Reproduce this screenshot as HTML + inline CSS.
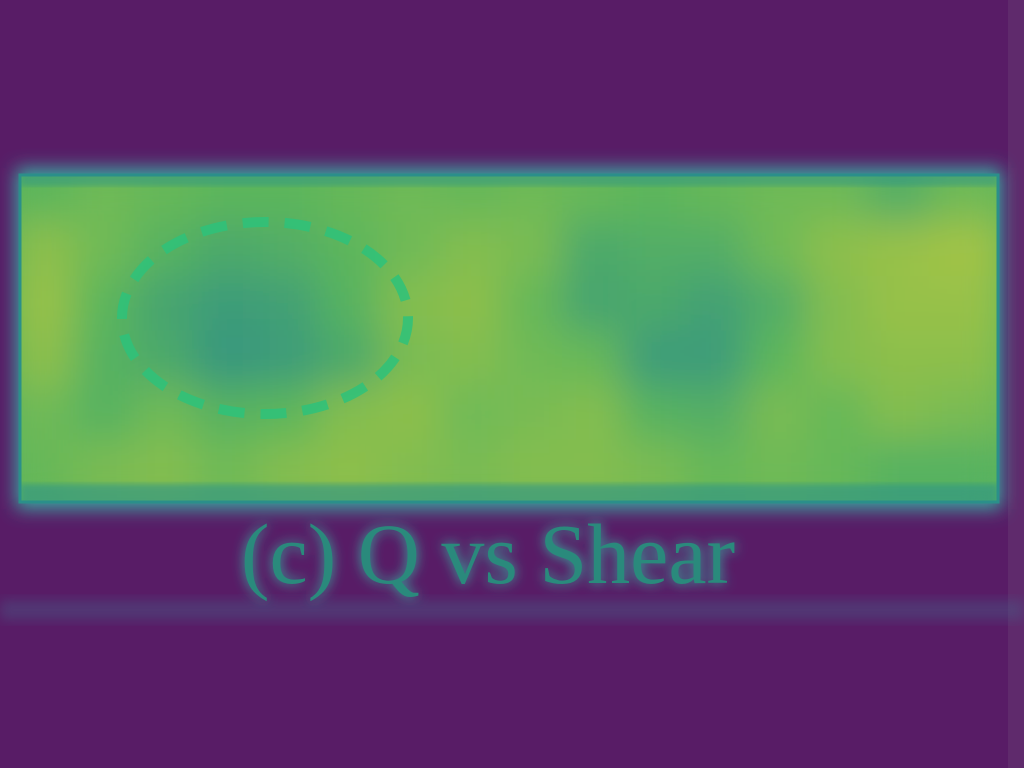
<!DOCTYPE html>
<html><head><meta charset="utf-8"><style>
html,body{margin:0;padding:0;background:#581c66;width:1024px;height:768px;overflow:hidden}
svg{display:block}
</style></head><body>
<svg id="chart" width="1024" height="768" viewBox="0 0 1024 768">
<defs>
<filter id="blur" x="-10%" y="-20%" width="120%" height="140%"><feGaussianBlur stdDeviation="20"/></filter>
<filter id="glow" x="-10%" y="-30%" width="120%" height="160%"><feGaussianBlur stdDeviation="9"/></filter>
<filter id="tglow" x="-10%" y="-30%" width="120%" height="160%"><feGaussianBlur stdDeviation="6"/></filter>
<filter id="sblur"><feGaussianBlur stdDeviation="3"/></filter>
<clipPath id="clip"><rect x="20" y="175" width="978" height="327"/></clipPath>
</defs>
<rect x="0" y="0" width="1024" height="768" fill="#581c66"/>
<rect x="1008" y="0" width="16" height="768" fill="#5f2a6c"/>
<rect x="0" y="600" width="1024" height="20" fill="#4a5a86" opacity="0.45" filter="url(#tglow)"/>
<rect x="16" y="168" width="986" height="341" fill="#3aa7a0" filter="url(#glow)"/>
<g id="cells" clip-path="url(#clip)">
<rect x="20" y="175" width="978" height="327" fill="#5db35c"/>
<g id="cellg" filter="url(#blur)"></g>
<rect x="20" y="484" width="978" height="22" fill="#2f9488" opacity="0.6" filter="url(#sblur)"/>
<rect x="20" y="172" width="978" height="14" fill="#2f9488" opacity="0.5" filter="url(#sblur)"/>
</g>
<rect x="20" y="175" width="978" height="327" fill="none" stroke="#2b8f8a" stroke-width="3"/>
<ellipse cx="265" cy="318" rx="143" ry="96" fill="none" stroke="#2ec27a" stroke-width="10" stroke-dasharray="26 16" opacity="0.85"/>
<text x="488" y="583" text-anchor="middle" font-family="Liberation Serif, serif" font-size="86" fill="#36b0a0" filter="url(#tglow)">(c) Q vs Shear</text>
<text x="488" y="583" text-anchor="middle" font-family="Liberation Serif, serif" font-size="86" fill="#2a8a7c">(c) Q vs Shear</text>
</svg>
<script>
const rows = [
 [0.5,0.6,0.55,0.5,0.5,0.55,0.6,0.55,0.6,0.55,0.5,0.55,0.6,0.6,0.4,0.6],
 [0.75,0.6,0.45,0.35,0.4,0.5,0.6,0.7,0.65,0.35,0.4,0.4,0.6,0.75,0.8,0.85],
 [0.8,0.5,0.3,0.2,0.25,0.45,0.7,0.75,0.55,0.3,0.35,0.25,0.4,0.7,0.8,0.8],
 [0.75,0.45,0.35,0.15,0.2,0.35,0.65,0.7,0.6,0.55,0.2,0.2,0.5,0.7,0.75,0.75],
 [0.6,0.45,0.6,0.45,0.5,0.7,0.75,0.6,0.65,0.7,0.45,0.4,0.65,0.55,0.7,0.65],
 [0.55,0.65,0.7,0.6,0.7,0.75,0.7,0.65,0.7,0.7,0.65,0.55,0.6,0.55,0.45,0.45]
];
const x0=20,x1=998,y0=175,y1=502;
const nC=rows[0].length,nR=rows.length;
function xScale(i){return x0+(x1-x0)*i/nC;}
function yScale(j){return y0+(y1-y0)*j/nR;}
function lerp(a,b,t){return a.map((v,k)=>Math.round(v+(b[k]-v)*t));}
function colorFor(v){
 const c0=[40,138,140],c1=[92,182,92],c2=[190,200,60];
 const c=v<0.5?lerp(c0,c1,v/0.5):lerp(c1,c2,(v-0.5)/0.5);
 return `rgb(${c[0]},${c[1]},${c[2]})`;
}
const g=document.getElementById('cellg');
rows.forEach((r,j)=>r.forEach((v,i)=>{
 const el=document.createElementNS('http://www.w3.org/2000/svg','rect');
 
 
 el.setAttribute('x',xScale(i)-8);el.setAttribute('y',yScale(j)-8);
 el.setAttribute('width',(x1-x0)/nC+16);el.setAttribute('height',(y1-y0)/nR+16);
 el.setAttribute('fill',colorFor(v));
 g.appendChild(el);
}));
</script>
</body></html>
